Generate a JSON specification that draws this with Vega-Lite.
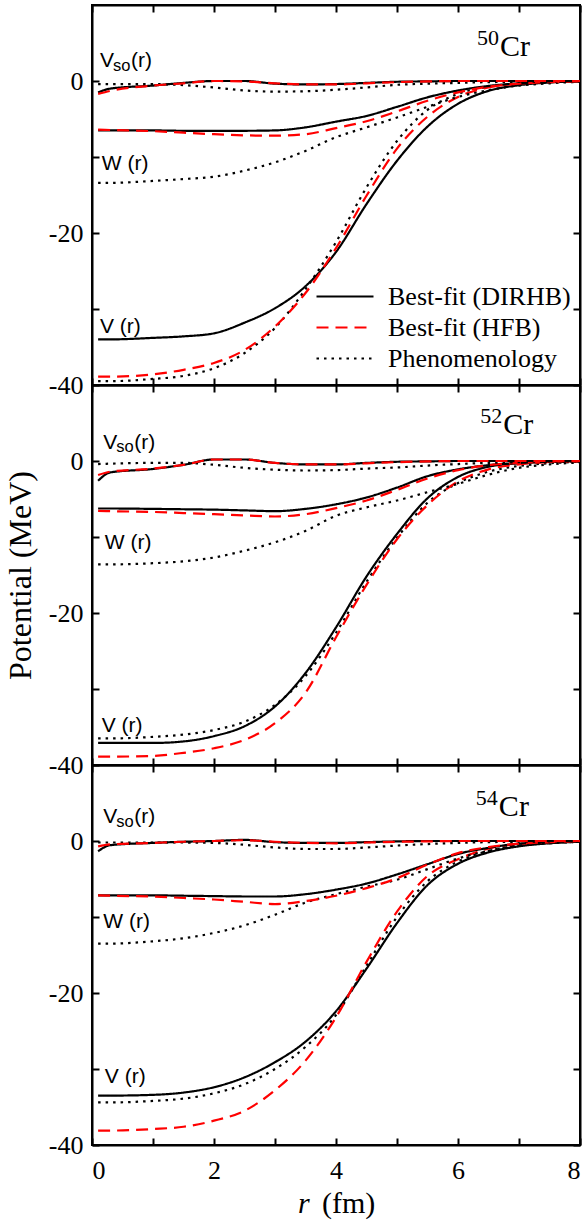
{
  "$schema": "https://vega.github.io/schema/vega-lite/v6.json",
  "padding": {"left": 3, "top": 3, "right": 0, "bottom": 0},
  "spacing": 0,
  "bounds": "flush",
  "config": {
    "view": {"stroke": "black", "strokeWidth": 2},
    "axis": {
      "grid": false, "domainColor": "black", "domainWidth": 2,
      "tickColor": "black", "tickWidth": 2, "tickSize": -7,
      "labelFont": "Liberation Serif", "labelFontSize": 26, "labelColor": "black", "labelPadding": 16,
      "titleFont": "Liberation Serif", "titleFontSize": 32, "titleFontWeight": "normal", "titleColor": "black"
    },
    "text": {"font": "Liberation Sans", "fontSize": 21, "baseline": "alphabetic", "align": "left", "color": "black"}
  },
  "datasets": {
    "curves": [
      {"nuc":"50Cr","pot":"V","r":0.1,"D":-34.0,"H":-38.9,"P":-39.5},
      {"nuc":"50Cr","pot":"V","r":0.3,"D":-34.0,"H":-38.9,"P":-39.5},
      {"nuc":"50Cr","pot":"V","r":1,"D":-33.8,"H":-38.6,"P":-39.2},
      {"nuc":"50Cr","pot":"V","r":1.5,"D":-33.6,"H":-38.0,"P":-38.8},
      {"nuc":"50Cr","pot":"V","r":2,"D":-33.2,"H":-37.1,"P":-37.8},
      {"nuc":"50Cr","pot":"V","r":2.5,"D":-31.8,"H":-35.4,"P":-35.8},
      {"nuc":"50Cr","pot":"V","r":3,"D":-29.9,"H":-32.3,"P":-32.5},
      {"nuc":"50Cr","pot":"V","r":3.5,"D":-27.0,"H":-27.9,"P":-27.4},
      {"nuc":"50Cr","pot":"V","r":4,"D":-22.5,"H":-22.0,"P":-21.2},
      {"nuc":"50Cr","pot":"V","r":4.5,"D":-16.2,"H":-15.1,"P":-14.0},
      {"nuc":"50Cr","pot":"V","r":5,"D":-10.5,"H":-8.9,"P":-7.9},
      {"nuc":"50Cr","pot":"V","r":5.5,"D":-6.0,"H":-4.7,"P":-3.8},
      {"nuc":"50Cr","pot":"V","r":6,"D":-3.0,"H":-2.1,"P":-1.7},
      {"nuc":"50Cr","pot":"V","r":6.5,"D":-1.3,"H":-0.85,"P":-0.75},
      {"nuc":"50Cr","pot":"V","r":7,"D":-0.55,"H":-0.35,"P":-0.35},
      {"nuc":"50Cr","pot":"V","r":7.5,"D":-0.2,"H":-0.1,"P":-0.15},
      {"nuc":"50Cr","pot":"V","r":8,"D":-0.05,"H":0,"P":-0.05},

      {"nuc":"50Cr","pot":"W","r":0.1,"D":-6.5,"H":-6.4,"P":-13.4},
      {"nuc":"50Cr","pot":"W","r":0.3,"D":-6.5,"H":-6.45,"P":-13.4},
      {"nuc":"50Cr","pot":"W","r":1,"D":-6.5,"H":-6.6,"P":-13.15},
      {"nuc":"50Cr","pot":"W","r":1.5,"D":-6.55,"H":-6.8,"P":-12.9},
      {"nuc":"50Cr","pot":"W","r":2,"D":-6.55,"H":-7.0,"P":-12.6},
      {"nuc":"50Cr","pot":"W","r":2.5,"D":-6.55,"H":-7.15,"P":-11.8},
      {"nuc":"50Cr","pot":"W","r":3,"D":-6.5,"H":-7.2,"P":-10.7},
      {"nuc":"50Cr","pot":"W","r":3.5,"D":-6.1,"H":-7.0,"P":-9.2},
      {"nuc":"50Cr","pot":"W","r":4,"D":-5.35,"H":-6.2,"P":-7.4},
      {"nuc":"50Cr","pot":"W","r":4.5,"D":-4.6,"H":-5.3,"P":-6.1},
      {"nuc":"50Cr","pot":"W","r":5,"D":-3.4,"H":-4.0,"P":-4.8},
      {"nuc":"50Cr","pot":"W","r":5.5,"D":-2.15,"H":-2.6,"P":-3.4},
      {"nuc":"50Cr","pot":"W","r":6,"D":-1.25,"H":-1.5,"P":-2.1},
      {"nuc":"50Cr","pot":"W","r":6.5,"D":-0.65,"H":-0.75,"P":-1.2},
      {"nuc":"50Cr","pot":"W","r":7,"D":-0.3,"H":-0.35,"P":-0.6},
      {"nuc":"50Cr","pot":"W","r":7.5,"D":-0.12,"H":-0.15,"P":-0.3},
      {"nuc":"50Cr","pot":"W","r":8,"D":-0.03,"H":-0.05,"P":-0.1},

      {"nuc":"50Cr","pot":"Vso","r":0.1,"D":-1.5,"H":-1.7,"P":-0.4},
      {"nuc":"50Cr","pot":"Vso","r":0.3,"D":-1.0,"H":-1.3,"P":-0.4},
      {"nuc":"50Cr","pot":"Vso","r":1,"D":-0.6,"H":-0.6,"P":-0.4},
      {"nuc":"50Cr","pot":"Vso","r":1.5,"D":-0.25,"H":-0.3,"P":-0.55},
      {"nuc":"50Cr","pot":"Vso","r":2,"D":0.0,"H":0.0,"P":-0.85},
      {"nuc":"50Cr","pot":"Vso","r":2.5,"D":0.0,"H":-0.05,"P":-1.25},
      {"nuc":"50Cr","pot":"Vso","r":3,"D":-0.35,"H":-0.3,"P":-1.4},
      {"nuc":"50Cr","pot":"Vso","r":3.5,"D":-0.45,"H":-0.45,"P":-1.35},
      {"nuc":"50Cr","pot":"Vso","r":4,"D":-0.4,"H":-0.45,"P":-1.15},
      {"nuc":"50Cr","pot":"Vso","r":4.5,"D":-0.25,"H":-0.3,"P":-0.85},
      {"nuc":"50Cr","pot":"Vso","r":5,"D":-0.1,"H":-0.15,"P":-0.5},
      {"nuc":"50Cr","pot":"Vso","r":5.5,"D":-0.05,"H":-0.05,"P":-0.35},
      {"nuc":"50Cr","pot":"Vso","r":6,"D":0,"H":0,"P":-0.25},
      {"nuc":"50Cr","pot":"Vso","r":6.5,"D":0,"H":0,"P":-0.15},
      {"nuc":"50Cr","pot":"Vso","r":7,"D":0,"H":0,"P":-0.1},
      {"nuc":"50Cr","pot":"Vso","r":7.5,"D":0,"H":0,"P":-0.05},
      {"nuc":"50Cr","pot":"Vso","r":8,"D":0,"H":0,"P":0},

      {"nuc":"52Cr","pot":"V","r":0.1,"D":-37.1,"H":-38.9,"P":-36.5},
      {"nuc":"52Cr","pot":"V","r":0.3,"D":-37.1,"H":-38.9,"P":-36.5},
      {"nuc":"52Cr","pot":"V","r":1,"D":-37.1,"H":-38.8,"P":-36.3},
      {"nuc":"52Cr","pot":"V","r":1.5,"D":-36.9,"H":-38.4,"P":-36.0},
      {"nuc":"52Cr","pot":"V","r":2,"D":-36.2,"H":-37.8,"P":-35.4},
      {"nuc":"52Cr","pot":"V","r":2.5,"D":-34.9,"H":-36.7,"P":-34.3},
      {"nuc":"52Cr","pot":"V","r":3,"D":-32.3,"H":-34.5,"P":-32.1},
      {"nuc":"52Cr","pot":"V","r":3.5,"D":-27.9,"H":-30.5,"P":-28.3},
      {"nuc":"52Cr","pot":"V","r":4,"D":-21.9,"H":-23.2,"P":-22.6},
      {"nuc":"52Cr","pot":"V","r":4.5,"D":-15.2,"H":-16.3,"P":-15.9},
      {"nuc":"52Cr","pot":"V","r":5,"D":-9.6,"H":-10.3,"P":-10.1},
      {"nuc":"52Cr","pot":"V","r":5.5,"D":-4.9,"H":-5.8,"P":-5.5},
      {"nuc":"52Cr","pot":"V","r":6,"D":-2.1,"H":-2.7,"P":-2.9},
      {"nuc":"52Cr","pot":"V","r":6.5,"D":-0.75,"H":-1.1,"P":-1.4},
      {"nuc":"52Cr","pot":"V","r":7,"D":-0.3,"H":-0.45,"P":-0.65},
      {"nuc":"52Cr","pot":"V","r":7.5,"D":-0.1,"H":-0.15,"P":-0.3},
      {"nuc":"52Cr","pot":"V","r":8,"D":0,"H":-0.05,"P":-0.1},

      {"nuc":"52Cr","pot":"W","r":0.1,"D":-6.25,"H":-6.55,"P":-13.6},
      {"nuc":"52Cr","pot":"W","r":0.3,"D":-6.25,"H":-6.6,"P":-13.6},
      {"nuc":"52Cr","pot":"W","r":1,"D":-6.3,"H":-6.7,"P":-13.45},
      {"nuc":"52Cr","pot":"W","r":1.5,"D":-6.35,"H":-6.85,"P":-13.2},
      {"nuc":"52Cr","pot":"W","r":2,"D":-6.4,"H":-7.0,"P":-12.7},
      {"nuc":"52Cr","pot":"W","r":2.5,"D":-6.5,"H":-7.15,"P":-11.8},
      {"nuc":"52Cr","pot":"W","r":3,"D":-6.6,"H":-7.3,"P":-10.7},
      {"nuc":"52Cr","pot":"W","r":3.5,"D":-6.3,"H":-7.0,"P":-9.2},
      {"nuc":"52Cr","pot":"W","r":4,"D":-5.7,"H":-6.2,"P":-7.2},
      {"nuc":"52Cr","pot":"W","r":4.5,"D":-4.8,"H":-5.2,"P":-6.1},
      {"nuc":"52Cr","pot":"W","r":5,"D":-3.5,"H":-3.8,"P":-5.2},
      {"nuc":"52Cr","pot":"W","r":5.5,"D":-2.0,"H":-2.3,"P":-4.1},
      {"nuc":"52Cr","pot":"W","r":6,"D":-1.1,"H":-1.2,"P":-3.0},
      {"nuc":"52Cr","pot":"W","r":6.5,"D":-0.55,"H":-0.55,"P":-1.8},
      {"nuc":"52Cr","pot":"W","r":7,"D":-0.25,"H":-0.25,"P":-0.9},
      {"nuc":"52Cr","pot":"W","r":7.5,"D":-0.1,"H":-0.1,"P":-0.45},
      {"nuc":"52Cr","pot":"W","r":8,"D":0,"H":0,"P":-0.2},

      {"nuc":"52Cr","pot":"Vso","r":0.1,"D":-2.6,"H":-1.85,"P":-0.4},
      {"nuc":"52Cr","pot":"Vso","r":0.3,"D":-1.5,"H":-1.4,"P":-0.35},
      {"nuc":"52Cr","pot":"Vso","r":1,"D":-1.05,"H":-1.0,"P":-0.25},
      {"nuc":"52Cr","pot":"Vso","r":1.5,"D":-0.5,"H":-0.5,"P":-0.25},
      {"nuc":"52Cr","pot":"Vso","r":2,"D":0.2,"H":0.2,"P":-0.5},
      {"nuc":"52Cr","pot":"Vso","r":2.5,"D":0.2,"H":0.2,"P":-0.9},
      {"nuc":"52Cr","pot":"Vso","r":3,"D":-0.25,"H":-0.25,"P":-1.15},
      {"nuc":"52Cr","pot":"Vso","r":3.5,"D":-0.45,"H":-0.45,"P":-1.25},
      {"nuc":"52Cr","pot":"Vso","r":4,"D":-0.45,"H":-0.45,"P":-1.2},
      {"nuc":"52Cr","pot":"Vso","r":4.5,"D":-0.25,"H":-0.3,"P":-1.0},
      {"nuc":"52Cr","pot":"Vso","r":5,"D":-0.1,"H":-0.15,"P":-0.85},
      {"nuc":"52Cr","pot":"Vso","r":5.5,"D":-0.05,"H":-0.05,"P":-0.6},
      {"nuc":"52Cr","pot":"Vso","r":6,"D":0,"H":0,"P":-0.4},
      {"nuc":"52Cr","pot":"Vso","r":6.5,"D":0,"H":0,"P":-0.25},
      {"nuc":"52Cr","pot":"Vso","r":7,"D":0,"H":0,"P":-0.15},
      {"nuc":"52Cr","pot":"Vso","r":7.5,"D":0,"H":0,"P":-0.05},
      {"nuc":"52Cr","pot":"Vso","r":8,"D":0,"H":0,"P":-0.05},

      {"nuc":"54Cr","pot":"V","r":0.1,"D":-33.5,"H":-38.1,"P":-34.4},
      {"nuc":"54Cr","pot":"V","r":0.3,"D":-33.5,"H":-38.1,"P":-34.4},
      {"nuc":"54Cr","pot":"V","r":1,"D":-33.4,"H":-37.9,"P":-34.2},
      {"nuc":"54Cr","pot":"V","r":1.5,"D":-33.1,"H":-37.6,"P":-33.9},
      {"nuc":"54Cr","pot":"V","r":2,"D":-32.4,"H":-36.8,"P":-33.2},
      {"nuc":"54Cr","pot":"V","r":2.5,"D":-31.1,"H":-35.5,"P":-32.0},
      {"nuc":"54Cr","pot":"V","r":3,"D":-29.1,"H":-32.8,"P":-30.0},
      {"nuc":"54Cr","pot":"V","r":3.5,"D":-26.4,"H":-28.9,"P":-27.1},
      {"nuc":"54Cr","pot":"V","r":4,"D":-22.4,"H":-23.2,"P":-22.9},
      {"nuc":"54Cr","pot":"V","r":4.5,"D":-16.8,"H":-15.9,"P":-16.4},
      {"nuc":"54Cr","pot":"V","r":5,"D":-10.8,"H":-9.3,"P":-10.0},
      {"nuc":"54Cr","pot":"V","r":5.5,"D":-5.8,"H":-4.6,"P":-5.3},
      {"nuc":"54Cr","pot":"V","r":6,"D":-3.0,"H":-2.4,"P":-2.7},
      {"nuc":"54Cr","pot":"V","r":6.5,"D":-1.5,"H":-1.0,"P":-1.3},
      {"nuc":"54Cr","pot":"V","r":7,"D":-0.7,"H":-0.4,"P":-0.6},
      {"nuc":"54Cr","pot":"V","r":7.5,"D":-0.3,"H":-0.15,"P":-0.25},
      {"nuc":"54Cr","pot":"V","r":8,"D":-0.1,"H":0,"P":-0.1},

      {"nuc":"54Cr","pot":"W","r":0.1,"D":-7.15,"H":-7.15,"P":-13.5},
      {"nuc":"54Cr","pot":"W","r":0.3,"D":-7.15,"H":-7.2,"P":-13.5},
      {"nuc":"54Cr","pot":"W","r":1,"D":-7.15,"H":-7.3,"P":-13.2},
      {"nuc":"54Cr","pot":"W","r":1.5,"D":-7.2,"H":-7.5,"P":-12.8},
      {"nuc":"54Cr","pot":"W","r":2,"D":-7.25,"H":-7.7,"P":-12.1},
      {"nuc":"54Cr","pot":"W","r":2.5,"D":-7.3,"H":-8.0,"P":-11.1},
      {"nuc":"54Cr","pot":"W","r":3,"D":-7.3,"H":-8.3,"P":-9.7},
      {"nuc":"54Cr","pot":"W","r":3.5,"D":-7.0,"H":-7.9,"P":-8.1},
      {"nuc":"54Cr","pot":"W","r":4,"D":-6.4,"H":-7.2,"P":-7.0},
      {"nuc":"54Cr","pot":"W","r":4.5,"D":-5.6,"H":-6.2,"P":-6.0},
      {"nuc":"54Cr","pot":"W","r":5,"D":-4.4,"H":-4.9,"P":-5.1},
      {"nuc":"54Cr","pot":"W","r":5.5,"D":-3.05,"H":-3.1,"P":-3.7},
      {"nuc":"54Cr","pot":"W","r":6,"D":-1.7,"H":-1.6,"P":-2.3},
      {"nuc":"54Cr","pot":"W","r":6.5,"D":-0.9,"H":-0.8,"P":-1.3},
      {"nuc":"54Cr","pot":"W","r":7,"D":-0.35,"H":-0.35,"P":-0.6},
      {"nuc":"54Cr","pot":"W","r":7.5,"D":-0.15,"H":-0.15,"P":-0.3},
      {"nuc":"54Cr","pot":"W","r":8,"D":0,"H":0,"P":-0.1},

      {"nuc":"54Cr","pot":"Vso","r":0.1,"D":-1.35,"H":-0.7,"P":-0.2},
      {"nuc":"54Cr","pot":"Vso","r":0.3,"D":-0.55,"H":-0.45,"P":-0.2},
      {"nuc":"54Cr","pot":"Vso","r":1,"D":-0.25,"H":-0.25,"P":-0.2},
      {"nuc":"54Cr","pot":"Vso","r":1.5,"D":-0.1,"H":-0.1,"P":-0.2},
      {"nuc":"54Cr","pot":"Vso","r":2,"D":0.0,"H":0.0,"P":-0.25},
      {"nuc":"54Cr","pot":"Vso","r":2.5,"D":0.15,"H":0.1,"P":-0.5},
      {"nuc":"54Cr","pot":"Vso","r":3,"D":-0.15,"H":-0.1,"P":-0.85},
      {"nuc":"54Cr","pot":"Vso","r":3.5,"D":-0.25,"H":-0.25,"P":-1.05},
      {"nuc":"54Cr","pot":"Vso","r":4,"D":-0.25,"H":-0.3,"P":-1.05},
      {"nuc":"54Cr","pot":"Vso","r":4.5,"D":-0.15,"H":-0.2,"P":-0.85},
      {"nuc":"54Cr","pot":"Vso","r":5,"D":-0.05,"H":-0.1,"P":-0.6},
      {"nuc":"54Cr","pot":"Vso","r":5.5,"D":0,"H":-0.05,"P":-0.4},
      {"nuc":"54Cr","pot":"Vso","r":6,"D":0,"H":0,"P":-0.25},
      {"nuc":"54Cr","pot":"Vso","r":6.5,"D":0,"H":0,"P":-0.15},
      {"nuc":"54Cr","pot":"Vso","r":7,"D":0,"H":0,"P":-0.1},
      {"nuc":"54Cr","pot":"Vso","r":7.5,"D":0,"H":0,"P":-0.05},
      {"nuc":"54Cr","pot":"Vso","r":8,"D":0,"H":0,"P":0}
    ],
    "labels": [
      {"nuc":"50Cr","part":"main","text":"V","r":0.13,"v":1.8},
      {"nuc":"50Cr","part":"sub","text":"so","r":0.13,"v":1.8},
      {"nuc":"50Cr","part":"tail","text":"(r)","r":0.13,"v":1.8},
      {"nuc":"50Cr","part":"main","text":"W (r)","r":0.16,"v":-11.7},
      {"nuc":"50Cr","part":"main","text":"V (r)","r":0.13,"v":-33.2},
      {"nuc":"50Cr","part":"nucl","text":"Cr","r":6.69,"v":3.3},
      {"nuc":"50Cr","part":"mass","text":"50","r":6.69,"v":3.3},

      {"nuc":"52Cr","part":"main","text":"V","r":0.185,"v":1.58},
      {"nuc":"52Cr","part":"sub","text":"so","r":0.185,"v":1.58},
      {"nuc":"52Cr","part":"tail","text":"(r)","r":0.185,"v":1.58},
      {"nuc":"52Cr","part":"main","text":"W (r)","r":0.21,"v":-11.6},
      {"nuc":"52Cr","part":"main","text":"V (r)","r":0.16,"v":-35.6},
      {"nuc":"52Cr","part":"nucl","text":"Cr","r":6.74,"v":3.56},
      {"nuc":"52Cr","part":"mass","text":"52","r":6.74,"v":3.56},

      {"nuc":"54Cr","part":"main","text":"V","r":0.185,"v":2.35},
      {"nuc":"54Cr","part":"sub","text":"so","r":0.185,"v":2.35},
      {"nuc":"54Cr","part":"tail","text":"(r)","r":0.185,"v":2.35},
      {"nuc":"54Cr","part":"main","text":"W (r)","r":0.185,"v":-11.4},
      {"nuc":"54Cr","part":"main","text":"V (r)","r":0.21,"v":-31.8},
      {"nuc":"54Cr","part":"nucl","text":"Cr","r":6.67,"v":3.34},
      {"nuc":"54Cr","part":"mass","text":"54","r":6.67,"v":3.34},
      {"nuc":"54Cr","part":"xvar","text":"r","r":4,"v":-40},
      {"nuc":"54Cr","part":"xunit","text":"(fm)","r":4,"v":-40}
    ]
  },
  "resolve": {
    "scale": {"color": "independent", "strokeDash": "independent"},
    "legend": {"color": "independent", "strokeDash": "independent"}
  },
  "vconcat": [
    {
      "width": 488, "height": 380,
      "layer": [
        {
          "data": {"name": "curves"},
          "transform": [{"filter": "datum.nuc === '50Cr'"}, {"fold": ["D", "P", "H"], "as": ["model", "v"]}],
          "mark": {"type": "line", "interpolate": "monotone", "strokeWidth": 2.2, "strokeCap": "butt", "clip": true},
          "encoding": {
            "x": {"field": "r", "type": "quantitative", "scale": {"domain": [0, 8], "nice": false},
                  "axis": {"values": [0,1,2,3,4,5,6,7,8], "labels": false, "title": null}},
            "y": {"field": "v", "type": "quantitative", "scale": {"domain": [-40, 10], "nice": false, "zero": false},
                  "axis": {"values": [-40,-30,-20,-10,0], "labelExpr": "datum.value % 20 === 0 ? '' + datum.value : ''", "labelBaseline": "middle", "title": null}},
            "detail": {"field": "pot"},
            "color": {"field": "model", "type": "nominal",
                      "scale": {"domain": ["D", "H", "P"], "range": ["#000000", "#ff0000", "#000000"]},
                      "legend": {"orient": "none", "legendX": 223, "legendY": 276, "title": null, "padding": 0,
                                 "labelExpr": "datum.label === 'D' ? 'Best-fit (DIRHB)' : datum.label === 'H' ? 'Best-fit (HFB)' : 'Phenomenology'",
                                 "symbolType": "stroke", "symbolSize": 3249, "symbolStrokeWidth": 2.2, "clipHeight": 31, "rowPadding": 0,
                                 "labelFont": "Liberation Serif", "labelFontSize": 26, "labelColor": "black", "labelOffset": 13, "labelLimit": 0}},
            "strokeDash": {"field": "model", "type": "nominal",
                           "scale": {"domain": ["D", "H", "P"], "range": [[1, 0], [12, 7], [2.5, 5]]},
                           "legend": {"orient": "none", "legendX": 223, "legendY": 276, "title": null, "padding": 0,
                                      "labelExpr": "datum.label === 'D' ? 'Best-fit (DIRHB)' : datum.label === 'H' ? 'Best-fit (HFB)' : 'Phenomenology'",
                                      "symbolType": "stroke", "symbolSize": 3249, "symbolStrokeWidth": 2.2, "clipHeight": 31, "rowPadding": 0,
                                      "labelFont": "Liberation Serif", "labelFontSize": 26, "labelColor": "black", "labelOffset": 13, "labelLimit": 0}}
          }
        },
        {
          "data": {"name": "labels"},
          "transform": [{"filter": "datum.nuc === '50Cr' && datum.part === 'main'"}],
          "mark": {"type": "text"},
          "encoding": {
            "x": {"field": "r", "type": "quantitative", "axis": {"orient": "top", "values": [0,1,2,3,4,5,6,7,8], "labels": false, "title": null}},
            "y": {"field": "v", "type": "quantitative", "axis": {"orient": "right", "values": [-40,-30,-20,-10,0], "labels": false, "title": null}},
            "text": {"field": "text"}
          }
        },
        {
          "data": {"name": "labels"},
          "transform": [{"filter": "datum.nuc === '50Cr' && datum.part === 'sub'"}],
          "mark": {"type": "text", "fontSize": 16.5, "dx": 13, "dy": 3.5},
          "encoding": {"x": {"field": "r", "type": "quantitative", "axis": null}, "y": {"field": "v", "type": "quantitative", "axis": null}, "text": {"field": "text"}}
        },
        {
          "data": {"name": "labels"},
          "transform": [{"filter": "datum.nuc === '50Cr' && datum.part === 'tail'"}],
          "mark": {"type": "text", "dx": 31},
          "encoding": {"x": {"field": "r", "type": "quantitative", "axis": null}, "y": {"field": "v", "type": "quantitative", "axis": null}, "text": {"field": "text"}}
        },
        {
          "data": {"name": "labels"},
          "transform": [{"filter": "datum.nuc === '50Cr' && datum.part === 'nucl'"}],
          "mark": {"type": "text", "font": "Liberation Serif", "fontSize": 30},
          "encoding": {"x": {"field": "r", "type": "quantitative", "axis": null}, "y": {"field": "v", "type": "quantitative", "axis": null}, "text": {"field": "text"}}
        },
        {
          "data": {"name": "labels"},
          "transform": [{"filter": "datum.nuc === '50Cr' && datum.part === 'mass'"}],
          "mark": {"type": "text", "font": "Liberation Serif", "fontSize": 22, "align": "right", "dx": -1, "dy": -10.5},
          "encoding": {"x": {"field": "r", "type": "quantitative", "axis": null}, "y": {"field": "v", "type": "quantitative", "axis": null}, "text": {"field": "text"}}
        }
      ],
      "resolve": {"axis": {"x": "independent", "y": "independent"}}
    },
    {
      "width": 488, "height": 380,
      "layer": [
        {
          "data": {"name": "curves"},
          "transform": [{"filter": "datum.nuc === '52Cr'"}, {"fold": ["D", "P", "H"], "as": ["model", "v"]}],
          "mark": {"type": "line", "interpolate": "monotone", "strokeWidth": 2.2, "strokeCap": "butt", "clip": true},
          "encoding": {
            "x": {"field": "r", "type": "quantitative", "scale": {"domain": [0, 8], "nice": false},
                  "axis": {"values": [0,1,2,3,4,5,6,7,8], "labels": false, "title": null}},
            "y": {"field": "v", "type": "quantitative", "scale": {"domain": [-40, 10], "nice": false, "zero": false},
                  "axis": {"values": [-40,-30,-20,-10,0], "labelExpr": "datum.value % 20 === 0 ? '' + datum.value : ''", "labelBaseline": "middle",
                           "title": "Potential (MeV)", "titlePadding": 11}},
            "detail": {"field": "pot"},
            "color": {"field": "model", "type": "nominal",
                      "scale": {"domain": ["D", "H", "P"], "range": ["#000000", "#ff0000", "#000000"]}, "legend": null},
            "strokeDash": {"field": "model", "type": "nominal",
                           "scale": {"domain": ["D", "H", "P"], "range": [[1, 0], [12, 7], [2.5, 5]]}, "legend": null}
          }
        },
        {
          "data": {"name": "labels"},
          "transform": [{"filter": "datum.nuc === '52Cr' && datum.part === 'main'"}],
          "mark": {"type": "text"},
          "encoding": {
            "x": {"field": "r", "type": "quantitative", "axis": {"orient": "top", "values": [0,1,2,3,4,5,6,7,8], "labels": false, "title": null}},
            "y": {"field": "v", "type": "quantitative", "axis": {"orient": "right", "values": [-40,-30,-20,-10,0], "labels": false, "title": null}},
            "text": {"field": "text"}
          }
        },
        {
          "data": {"name": "labels"},
          "transform": [{"filter": "datum.nuc === '52Cr' && datum.part === 'sub'"}],
          "mark": {"type": "text", "fontSize": 16.5, "dx": 13, "dy": 3.5},
          "encoding": {"x": {"field": "r", "type": "quantitative", "axis": null}, "y": {"field": "v", "type": "quantitative", "axis": null}, "text": {"field": "text"}}
        },
        {
          "data": {"name": "labels"},
          "transform": [{"filter": "datum.nuc === '52Cr' && datum.part === 'tail'"}],
          "mark": {"type": "text", "dx": 31},
          "encoding": {"x": {"field": "r", "type": "quantitative", "axis": null}, "y": {"field": "v", "type": "quantitative", "axis": null}, "text": {"field": "text"}}
        },
        {
          "data": {"name": "labels"},
          "transform": [{"filter": "datum.nuc === '52Cr' && datum.part === 'nucl'"}],
          "mark": {"type": "text", "font": "Liberation Serif", "fontSize": 30},
          "encoding": {"x": {"field": "r", "type": "quantitative", "axis": null}, "y": {"field": "v", "type": "quantitative", "axis": null}, "text": {"field": "text"}}
        },
        {
          "data": {"name": "labels"},
          "transform": [{"filter": "datum.nuc === '52Cr' && datum.part === 'mass'"}],
          "mark": {"type": "text", "font": "Liberation Serif", "fontSize": 22, "align": "right", "dx": -1, "dy": -10.5},
          "encoding": {"x": {"field": "r", "type": "quantitative", "axis": null}, "y": {"field": "v", "type": "quantitative", "axis": null}, "text": {"field": "text"}}
        }
      ],
      "resolve": {"axis": {"x": "independent", "y": "independent"}}
    },
    {
      "width": 488, "height": 380,
      "layer": [
        {
          "data": {"name": "curves"},
          "transform": [{"filter": "datum.nuc === '54Cr'"}, {"fold": ["D", "P", "H"], "as": ["model", "v"]}],
          "mark": {"type": "line", "interpolate": "monotone", "strokeWidth": 2.2, "strokeCap": "butt", "clip": true},
          "encoding": {
            "x": {"field": "r", "type": "quantitative", "scale": {"domain": [0, 8], "nice": false},
                  "axis": {"values": [0,1,2,3,4,5,6,7,8], "labelExpr": "datum.value % 2 === 0 ? datum.label : ''", "labelPadding": 19, "labelBaseline": "top", "title": null}},
            "y": {"field": "v", "type": "quantitative", "scale": {"domain": [-40, 10], "nice": false, "zero": false},
                  "axis": {"values": [-40,-30,-20,-10,0], "labelExpr": "datum.value % 20 === 0 ? '' + datum.value : ''", "labelBaseline": "middle", "title": null}},
            "detail": {"field": "pot"},
            "color": {"field": "model", "type": "nominal",
                      "scale": {"domain": ["D", "H", "P"], "range": ["#000000", "#ff0000", "#000000"]}, "legend": null},
            "strokeDash": {"field": "model", "type": "nominal",
                           "scale": {"domain": ["D", "H", "P"], "range": [[1, 0], [12, 7], [2.5, 5]]}, "legend": null}
          }
        },
        {
          "data": {"name": "labels"},
          "transform": [{"filter": "datum.nuc === '54Cr' && datum.part === 'main'"}],
          "mark": {"type": "text"},
          "encoding": {
            "x": {"field": "r", "type": "quantitative", "axis": {"orient": "top", "values": [0,1,2,3,4,5,6,7,8], "labels": false, "title": null}},
            "y": {"field": "v", "type": "quantitative", "axis": {"orient": "right", "values": [-40,-30,-20,-10,0], "labels": false, "title": null}},
            "text": {"field": "text"}
          }
        },
        {
          "data": {"name": "labels"},
          "transform": [{"filter": "datum.nuc === '54Cr' && datum.part === 'sub'"}],
          "mark": {"type": "text", "fontSize": 16.5, "dx": 13, "dy": 3.5},
          "encoding": {"x": {"field": "r", "type": "quantitative", "axis": null}, "y": {"field": "v", "type": "quantitative", "axis": null}, "text": {"field": "text"}}
        },
        {
          "data": {"name": "labels"},
          "transform": [{"filter": "datum.nuc === '54Cr' && datum.part === 'tail'"}],
          "mark": {"type": "text", "dx": 31},
          "encoding": {"x": {"field": "r", "type": "quantitative", "axis": null}, "y": {"field": "v", "type": "quantitative", "axis": null}, "text": {"field": "text"}}
        },
        {
          "data": {"name": "labels"},
          "transform": [{"filter": "datum.nuc === '54Cr' && datum.part === 'nucl'"}],
          "mark": {"type": "text", "font": "Liberation Serif", "fontSize": 30},
          "encoding": {"x": {"field": "r", "type": "quantitative", "axis": null}, "y": {"field": "v", "type": "quantitative", "axis": null}, "text": {"field": "text"}}
        },
        {
          "data": {"name": "labels"},
          "transform": [{"filter": "datum.nuc === '54Cr' && datum.part === 'mass'"}],
          "mark": {"type": "text", "font": "Liberation Serif", "fontSize": 22, "align": "right", "dx": -1, "dy": -10.5},
          "encoding": {"x": {"field": "r", "type": "quantitative", "axis": null}, "y": {"field": "v", "type": "quantitative", "axis": null}, "text": {"field": "text"}}
        },
        {
          "data": {"name": "labels"},
          "transform": [{"filter": "datum.part === 'xvar'"}],
          "mark": {"type": "text", "font": "Liberation Serif", "fontSize": 30, "fontStyle": "italic", "dx": -38, "dy": 68},
          "encoding": {"x": {"field": "r", "type": "quantitative", "axis": null}, "y": {"field": "v", "type": "quantitative", "axis": null}, "text": {"field": "text"}}
        },
        {
          "data": {"name": "labels"},
          "transform": [{"filter": "datum.part === 'xunit'"}],
          "mark": {"type": "text", "font": "Liberation Serif", "fontSize": 30, "dx": -14, "dy": 68},
          "encoding": {"x": {"field": "r", "type": "quantitative", "axis": null}, "y": {"field": "v", "type": "quantitative", "axis": null}, "text": {"field": "text"}}
        }
      ],
      "resolve": {"axis": {"x": "independent", "y": "independent"}}
    }
  ]
}
